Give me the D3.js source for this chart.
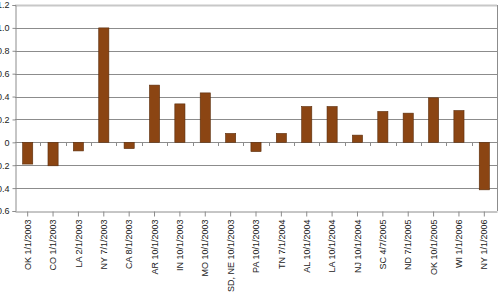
<!DOCTYPE html>
<html lang="en">
<head>
    <meta charset="UTF-8">
    <title>D3 bar chart</title>
    <script src="https://d3js.org/d3.v7.min.js"></script>
<style>
    body { margin: 0; background: #fff; }
    text { font-family: "Liberation Sans", Arial, sans-serif; font-size: 9px; fill: #222; }
</style>
</head>
<body>
    <svg id="chart" width="502" height="301"></svg>
</body>
<script>

// data
const categories = ['OK 1/1/2003', 'CO 1/1/2003', 'LA 2/1/2003', 'NY 7/1/2003', 'CA 8/1/2003',
    'AR 10/1/2003', 'IN 10/1/2003', 'MO 10/1/2003', 'SD, NE 10/1/2003', 'PA 10/1/2003',
    'TN 7/1/2004', 'AL 10/1/2004', 'LA 10/1/2004', 'NJ 10/1/2004', 'SC 4/7/2005',
    'ND 7/1/2005', 'OK 10/1/2005', 'WI 1/1/2006', 'NY 1/1/2006'];
const values = [-0.19, -0.205, -0.075, 1.0, -0.055, 0.50, 0.336, 0.432, 0.078, -0.081,
    0.078, 0.313, 0.313, 0.063, 0.27, 0.255, 0.389, 0.278, -0.415];
const yTicks = [-0.6, -0.4, -0.2, 0, 0.2, 0.4, 0.6, 0.8, 1.0, 1.2];

const svg = d3.select('svg#chart');
const mLeft = 15, mRight = 497, mTop = 5, mBottom = 211;

const x = d3.scaleBand().domain(categories).range([mLeft, mRight]).paddingInner(0.6).paddingOuter(0.3);
const xb = d3.scaleBand().domain(categories).range([mLeft, mRight]);
const y = d3.scaleLinear().domain([-0.6, 1.2]).range([mBottom, mTop]);

// gridlines
svg.append('g')
    .selectAll('line')
    .data(yTicks.filter(d => d !== -0.6))
    .enter()
    .append('line')
    .attr('x1', mLeft).attr('x2', mRight)
    .attr('y1', d => Math.round(y(d)) + 0.5).attr('y2', d => Math.round(y(d)) + 0.5)
    .style('stroke', d => d === 1.2 ? '#c8c8c8' : '#8c8c8c')
    .style('stroke-width', d => d === 1.2 ? 2 : 1);

// right border
svg.append('line')
    .attr('x1', mRight + 0.5).attr('x2', mRight + 0.5)
    .attr('y1', mTop).attr('y2', mBottom)
    .style('stroke', '#8c8c8c');

// bars
svg.append('g')
    .selectAll('rect')
    .data(values)
    .enter()
    .append('rect')
    .attr('x', (d, i) => x(categories[i]))
    .attr('width', x.bandwidth())
    .attr('y', d => y(Math.max(0, d)))
    .attr('height', d => Math.abs(y(d) - y(0)))
    .style('fill', '#8b4513')
    .style('stroke', '#5a2d0c')
    .style('stroke-width', '0.6px');

// zero line ticks between categories
svg.append('g')
    .selectAll('line')
    .data(categories.slice(1))
    .enter()
    .append('line')
    .attr('x1', d => Math.round(xb(d)) + 0.5).attr('x2', d => Math.round(xb(d)) + 0.5)
    .attr('y1', Math.round(y(0))).attr('y2', Math.round(y(0)) + 4)
    .style('stroke', '#8c8c8c');

// y axis
const yAxis = d3.axisLeft(y).tickValues(yTicks).tickFormat(d => d === 0 ? '0' : d3.format('.1f')(d)).tickSize(3);
const gy = svg.append('g').attr('transform', `translate(${mLeft + 0.5},0)`).call(yAxis);
gy.select('.domain').style('stroke', '#8c8c8c');
gy.selectAll('.tick line').style('stroke', '#8c8c8c');
gy.selectAll('text').style('font-size', '9px').style('fill', '#222');

// x axis
const xAxis = d3.axisBottom(xb).tickSize(5).tickSizeOuter(0);
const gx = svg.append('g').attr('transform', `translate(0,${mBottom + 0.5})`).call(xAxis);
gx.select('.domain').style('stroke', '#8c8c8c');
gx.selectAll('.tick line').style('stroke', '#8c8c8c');
gx.selectAll('text')
    .attr('transform', 'rotate(-90)')
    .attr('x', -8).attr('y', 0).attr('dy', '0.35em')
    .style('text-anchor', 'end')
    .style('font-size', '9px').style('fill', '#222');

</script>
</html>
